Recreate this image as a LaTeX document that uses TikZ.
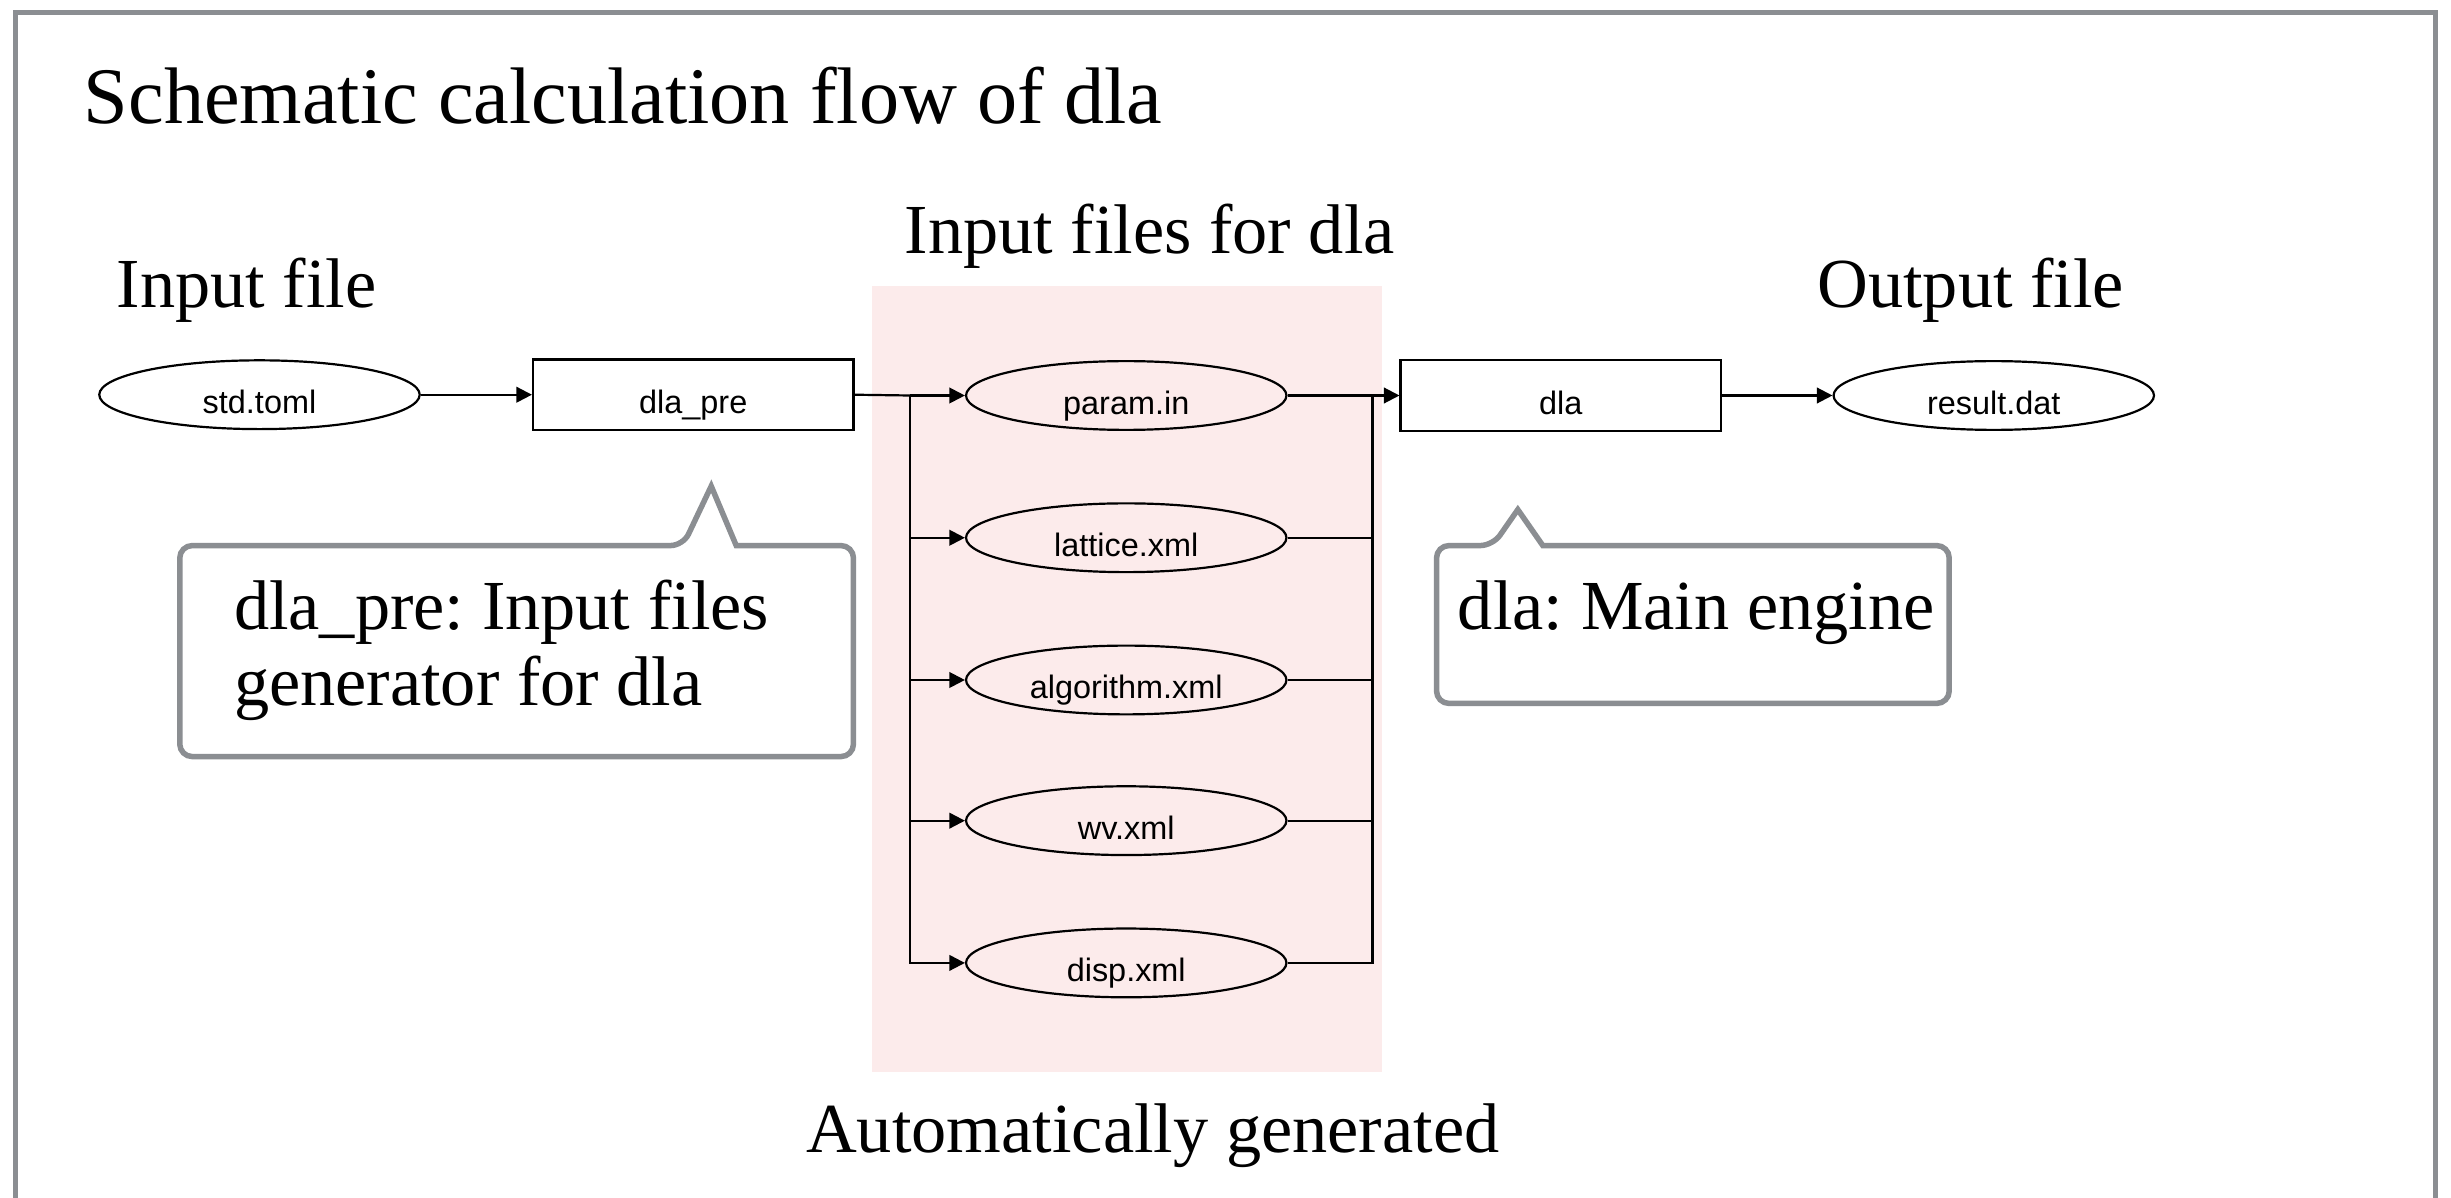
\documentclass[tikz,border=0pt]{standalone}
\usepackage{fontspec}
\setmainfont{Liberation Serif}
\newfontfamily\sansf{Liberation Sans}
\usetikzlibrary{arrows.meta,shapes.geometric}
\definecolor{framegray}{RGB}{139,142,146}
\definecolor{pinkbg}{RGB}{252,235,235}
\frenchspacing
\begin{document}
\begin{tikzpicture}[x=0.1mm,y=-0.1mm,
  lbl/.style={inner sep=0pt, anchor=base west, font=\fontsize{12.8pt}{14pt}\selectfont},
  ttl/.style={inner sep=0pt, anchor=base west, font=\fontsize{14.6pt}{17pt}\selectfont},
  fileell/.style={ellipse, draw, line width=0.4pt, minimum width=20.5mm, minimum height=4.4mm,
    inner sep=0pt, text height=2.4mm, text depth=0mm, font=\sansf\fontsize{5.9pt}{7pt}\selectfont},
  procbox/.style={rectangle, draw, line width=0.4pt, minimum width=20.5mm, minimum height=4.5mm,
    inner sep=0pt, text height=2.4mm, text depth=0mm, font=\sansf\fontsize{5.9pt}{7pt}\selectfont},
  conn/.style={line width=0.4pt},
  arr/.style={conn, -{Triangle[length=1mm,width=1mm]}},
  callout/.style={draw=framegray, line width=1pt, fill=white, rounded corners=0.8mm},
  frameline/.style={draw=framegray, line width=0.85pt}
]
\useasboundingbox (0,0) rectangle (1568,766);
\fill[white] (0,0) rectangle (1568,766);

% frame
\draw[frameline] (10,780) -- (10,8) -- (1558,8) -- (1558,780);

% pink background
\fill[pinkbg] (558,183) rectangle (884,686);

% labels
\node[ttl] (title) at (53,79) {Schematic calculation flow of dla};
\node[lbl] (lblin) at (74,197) {Input file};
\node[lbl] (lblfiles) at (578,162) {Input files for dla};
\node[lbl] (lblout) at (1162,197) {Output file};
\node[lbl] (lblauto) at (515,737) {Automatically generated};

% nodes
\node[fileell] (std) at (166,252.5) {std.toml};
\node[procbox] (dlapre) at (443.5,252.5) {dla\_pre};
\node[fileell] (param) at (720.5,253) {param.in};
\node[fileell] (lattice) at (720.5,344) {lattice.xml};
\node[fileell] (algo) at (720.5,435) {algorithm.xml};
\node[fileell] (wv) at (720.5,525) {wv.xml};
\node[fileell] (disp) at (720.5,616) {disp.xml};
\node[procbox] (dla) at (998.5,253) {dla};
\node[fileell] (result) at (1275.5,253) {result.dat};

% connectors
\coordinate (splitL) at (582,253);
\coordinate (joinR) at (878,253);
\draw[arr] (std) -- (dlapre);
\draw[conn] (dlapre.east) -- (splitL);
\foreach \n in {param,lattice,algo,wv,disp} {
  \draw[arr] (splitL) |- (\n.west);
  \draw[conn] (\n.east) -| (joinR);
}
\draw[arr] (param.east) -- (dla.west);
\draw[arr] (dla) -- (result);

% callouts
\draw[callout] (471,349) -- (546,349) -- (546,484) -- (115,484) -- (115,349) -- (437,349)
  [sharp corners] -- (455,311) -- cycle;
\node[lbl, anchor=north west, align=left, font=\fontsize{12.8pt}{13.9pt}\selectfont] (cpre) at (149,370)
  {dla\_pre: Input files\\generator for dla};

\draw[callout] (987,349) -- (1247,349) -- (1247,450) -- (919,450) -- (919,349) -- (955,349)
  [sharp corners] -- (971,326) -- cycle;
\node[lbl] (cdla) at (932,403) {dla: Main engine};
\end{tikzpicture}
\end{document}
